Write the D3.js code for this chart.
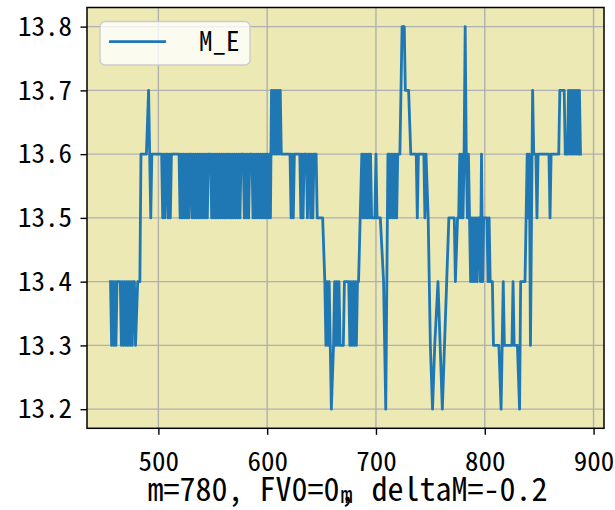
<!DOCTYPE html>
<html><head><meta charset="utf-8">
<script src="https://cdn.jsdelivr.net/npm/d3@7"></script>
<style>
html,body{margin:0;padding:0;background:#fff;}
svg text{font-family:"Noto Sans Mono CJK SC","DejaVu Sans Mono",monospace;fill:#000;}
</style></head>
<body><svg id="c" width="615" height="510"></svg>
<script>
const seriesName = "M_E";
const xLabelParts = ["m=780, FV0=0", ",", "m", " deltaM=-0.2"];
const xTicks = [500, 600, 700, 800, 900];
const yTicks = [13.2, 13.3, 13.4, 13.5, 13.6, 13.7, 13.8];

const xs = [
456,457,458,459,460,461,462,465,466,467,468,469,470,471,472,473,474,475,476,477,478,479,481,483,
484,489,491,493,494,503,504,505,506,507,508,509,510,511,512,519,
520,521,522,523,524,525,526,527,528,529,530,
531,532,533,534,535,536,537,538,539,540,541,542,543,544,545,546,548,
549,550,551,552,553,554,555,556,557,558,
559,560,561,562,563,564,565,566,567,568,569,570,571,572,573,574,575,576,578,
579,580,581,582,583,584,586,
587,588,589,590,591,592,593,594,595,596,597,598,599,600,601,602,603,
604,605,606,607,608,609,610,611,612,613,
621,622,623,624,625,630,631,632,633,634,636,637,638,639,640,641,642,643,645,646,651,653,
654,655,656,657,658,659,661,662,663,664,665,666,667,670,671,675,
676,677,678,679,680,681,682,683,684,687,
688,689,690,691,692,693,694,695,696,699,700,701,704,707,709,711,712,
713,714,715,716,717,718,719,720,722,724,726,727,730,732,
737,738,739,744,745,746,748,750,752,754,757,759,761,763,765,767,772,773,775,
776,777,778,779,780,781,782,783,784,785,
786,787,788,789,790,791,792,793,794,795,796,797,798,799,802,803,804,805,807,808,
813,815,817,818,825,826,827,830,832,833,837,838,839,840,841,842,844,845,
847,848,849,859,860,861,868,869,873,874,876,
877,878,879,880,881,882,883,884,885,886,887,888
];
const ys = [
13.4,13.3,13.4,13.3,13.4,13.3,13.4,13.4,13.3,13.4,13.3,13.4,13.3,13.4,13.3,13.4,13.3,13.4,13.3,13.4,13.4,13.3,13.4,13.4,
13.6,13.6,13.7,13.5,13.6,13.6,13.5,13.6,13.5,13.6,13.6,13.5,13.6,13.5,13.6,13.6,
13.5,13.6,13.5,13.6,13.5,13.6,13.5,13.6,13.5,13.6,13.6,
13.5,13.6,13.5,13.6,13.5,13.6,13.5,13.6,13.5,13.6,13.5,13.6,13.5,13.6,13.5,13.6,13.6,
13.5,13.6,13.5,13.6,13.5,13.6,13.5,13.6,13.5,13.6,
13.5,13.6,13.5,13.6,13.5,13.6,13.5,13.6,13.5,13.6,13.5,13.6,13.5,13.6,13.5,13.6,13.5,13.6,13.6,
13.5,13.6,13.5,13.6,13.5,13.6,13.6,
13.5,13.6,13.5,13.6,13.5,13.6,13.5,13.6,13.5,13.6,13.5,13.6,13.5,13.6,13.5,13.6,13.5,
13.7,13.6,13.7,13.6,13.7,13.6,13.7,13.6,13.7,13.6,
13.6,13.5,13.6,13.5,13.6,13.6,13.5,13.6,13.5,13.6,13.6,13.5,13.6,13.6,13.5,13.6,13.5,13.6,13.6,13.5,13.5,13.4,
13.3,13.4,13.3,13.4,13.3,13.2,13.3,13.4,13.3,13.4,13.3,13.4,13.3,13.3,13.4,13.4,
13.3,13.4,13.3,13.4,13.3,13.4,13.3,13.4,13.4,13.6,
13.5,13.6,13.5,13.6,13.5,13.6,13.5,13.6,13.5,13.5,13.6,13.5,13.5,13.4,13.2,13.6,13.6,
13.5,13.6,13.5,13.6,13.5,13.6,13.5,13.6,13.6,13.8,13.8,13.7,13.7,13.6,
13.6,13.5,13.6,13.6,13.5,13.6,13.5,13.3,13.2,13.3,13.4,13.3,13.2,13.3,13.4,13.5,13.5,13.4,13.5,
13.5,13.6,13.5,13.6,13.5,13.6,13.8,13.6,13.5,13.6,
13.5,13.4,13.5,13.4,13.5,13.4,13.5,13.4,13.5,13.5,13.4,13.6,13.4,13.5,13.5,13.4,13.5,13.4,13.4,13.3,
13.3,13.2,13.4,13.3,13.3,13.4,13.3,13.3,13.2,13.4,13.4,13.5,13.6,13.5,13.6,13.3,13.7,13.6,
13.6,13.5,13.6,13.6,13.5,13.6,13.6,13.7,13.7,13.6,13.6,
13.7,13.6,13.7,13.6,13.7,13.6,13.7,13.6,13.7,13.6,13.7,13.6
];

const W = 615, H = 510;
const L = 87, R = 604, T = 7.5, B = 428.3;
const svg = d3.select("#c");

const x = d3.scaleLinear().domain([434.4, 909.6]).range([L, R]);
const y = d3.scaleLinear().domain([13.17, 13.83]).range([B, T]);

// axes background
svg.append("rect").attr("x", L).attr("y", T).attr("width", R - L).attr("height", B - T)
  .attr("fill", "#ece9b4");

// grid
const grid = svg.append("g").attr("stroke", "#b0b0b0").attr("stroke-width", 1.4);
grid.selectAll("line.gx").data(xTicks).join("line")
  .attr("x1", d => x(d)).attr("x2", d => x(d)).attr("y1", T).attr("y2", B);
grid.selectAll("line.gy").data(yTicks).join("line")
  .attr("y1", d => y(d)).attr("y2", d => y(d)).attr("x1", L).attr("x2", R);

// data line
const pts = xs.map((v, i) => [v, ys[i]]);
svg.append("path").datum(pts)
  .attr("fill", "none").attr("stroke", "#1f77b4").attr("stroke-width", 2.8)
  .attr("stroke-linejoin", "round").attr("stroke-linecap", "square")
  .attr("d", d3.line().x(d => x(d[0])).y(d => y(d[1])));

// axes via d3
const xAxis = svg.append("g").attr("transform", `translate(0,${B})`)
  .call(d3.axisBottom(x).tickValues(xTicks).tickSize(6.5).tickPadding(6).tickFormat(d3.format("d")));
const yAxis = svg.append("g").attr("transform", `translate(${L},0)`)
  .call(d3.axisLeft(y).tickValues(yTicks).tickSize(6.5).tickPadding(6).tickFormat(d3.format(".1f")));
[xAxis, yAxis].forEach(g => {
  g.select(".domain").remove();
  g.selectAll(".tick line").attr("stroke", "#000").attr("stroke-width", 1.4);
  g.selectAll(".tick text").attr("font-family", null).style("font-size", "27px").attr("fill", "#000");
});
xAxis.selectAll(".tick text").attr("dy", null).attr("y", 42.5).attr("dominant-baseline", "alphabetic");
yAxis.selectAll(".tick text").attr("x", -15);

// spines
svg.append("rect").attr("x", L).attr("y", T).attr("width", R - L).attr("height", B - T)
  .attr("fill", "none").attr("stroke", "#000").attr("stroke-width", 1.5);

// legend
const lg = svg.append("g");
lg.append("rect").attr("x", 100).attr("y", 21.5).attr("width", 150).attr("height", 43.5)
  .attr("rx", 5).attr("fill", "rgba(255,255,255,0.8)").attr("stroke", "#cccccc").attr("stroke-width", 1.4);
lg.append("line").attr("x1", 109).attr("x2", 166).attr("y1", 41.7).attr("y2", 41.7)
  .attr("stroke", "#1f77b4").attr("stroke-width", 2.8);
lg.append("text").attr("x", 199).attr("y", 51).style("font-size", "27px").text(seriesName);

// x label (comma and small m share one cell, as in the reference)
const xl = svg.append("text").attr("x", (L + R) / 2 + 2).attr("y", 500.5)
  .attr("text-anchor", "middle").style("font-size", "32px");
xl.append("tspan").text(xLabelParts[0]);
xl.append("tspan").text(xLabelParts[1]);
xl.append("tspan").attr("dx", -15).attr("dy", 2).style("font-size", "24px").text(xLabelParts[2]);
xl.append("tspan").attr("dx", 3).attr("dy", -2).text(xLabelParts[3]);
</script></body></html>
